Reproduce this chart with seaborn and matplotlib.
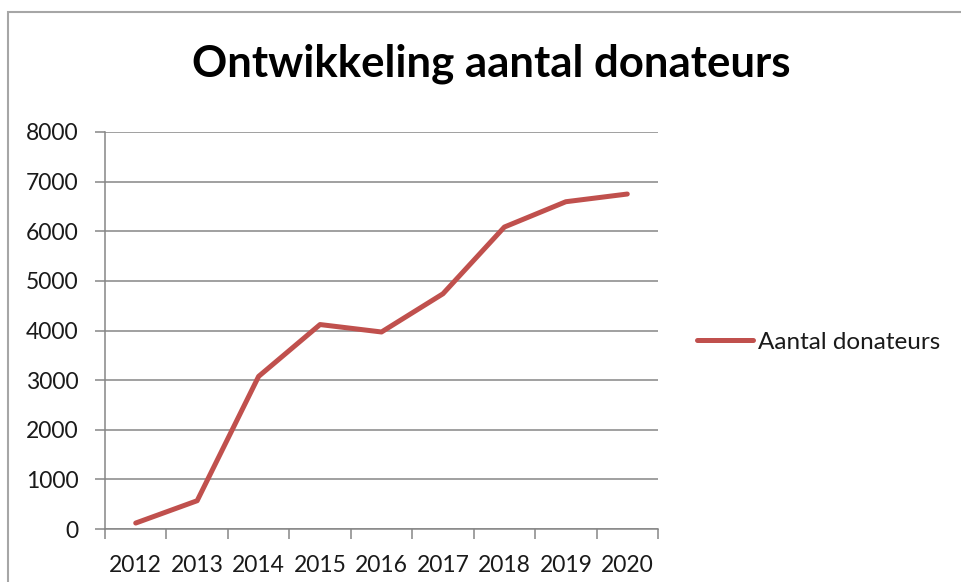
import numpy as np
import pandas as pd
import seaborn as sns
import matplotlib
matplotlib.use("Agg")
import matplotlib.pyplot as plt
from matplotlib.patches import Rectangle

# Data
years = ["2012", "2013", "2014", "2015", "2016", "2017", "2018", "2019", "2020"]
donateurs = [120, 570, 3075, 4120, 3970, 4740, 6085, 6595, 6750]
y_ticks = [0, 1000, 2000, 3000, 4000, 5000, 6000, 7000, 8000]

LINE_RED = "#C0504D"
GRID_GRAY = "#868686"

sns.set_theme(style="white")
plt.rcParams["font.family"] = ["Lato", "DejaVu Sans"]

df = pd.DataFrame({"jaar": years, "aantal": donateurs})
df["pos"] = np.arange(len(years))

fig = plt.figure(figsize=(9.62, 5.82), dpi=100)
W, H = 962, 582
ax = fig.add_axes([105 / W, 1 - 529 / H, (658 - 105) / W, (529 - 132) / H])

sns.lineplot(data=df, x="pos", y="aantal", ax=ax, color=LINE_RED,
             linewidth=3.6, label="Aantal donateurs", legend=False)

# y axis
ax.set_ylim(0, 8000)
ax.set_yticks(y_ticks)
ax.set_yticklabels([str(v) for v in y_ticks])
ax.yaxis.grid(True, color=GRID_GRAY, linewidth=1.1)
ax.xaxis.grid(False)
ax.tick_params(axis="y", length=7, width=1.1, color=GRID_GRAY, direction="out",
               left=True, labelsize=16.5, labelcolor="#1a1a1a", pad=12)

# x axis: tick marks between categories, labels centred
ax.set_xlim(-0.5, len(years) - 0.5)
ax.set_xticks(np.arange(-0.5, len(years), 1.0))
ax.set_xticklabels([])
ax.set_xticks(df["pos"], minor=True)
ax.set_xticklabels(years, minor=True)
ax.tick_params(axis="x", which="major", length=7, width=1.1, color=GRID_GRAY,
               direction="out", bottom=True)
ax.tick_params(axis="x", which="minor", length=0, labelsize=16.5,
               labelcolor="#1a1a1a", pad=19)
ax.set_xlabel("")
ax.set_ylabel("")

for side in ["top", "right"]:
    ax.spines[side].set_visible(False)
for side in ["left", "bottom"]:
    ax.spines[side].set_color(GRID_GRAY)
    ax.spines[side].set_linewidth(1.1)

# title
fig.text(491 / W, 1 - 77 / H, "Ontwikkeling aantal donateurs", ha="center",
         va="baseline", fontsize=31.5, fontweight="bold", color="black")

# legend
handles, labels = ax.get_legend_handles_labels()
fig.legend(handles, labels, loc="center left",
           bbox_to_anchor=(697 / W, 1 - 342 / H), frameon=False, fontsize=17.5,
           handlelength=2.3, handletextpad=0.22, borderpad=0, borderaxespad=0,
           labelcolor="#1a1a1a")

# chart border like the spreadsheet frame
fig.add_artist(Rectangle((8 / W, -0.1), 1.2, 1.1 - 12 / H,
                         transform=fig.transFigure, fill=False,
                         edgecolor="#A6A6A6", linewidth=1.5))

plt.savefig("out.png", dpi=100)
